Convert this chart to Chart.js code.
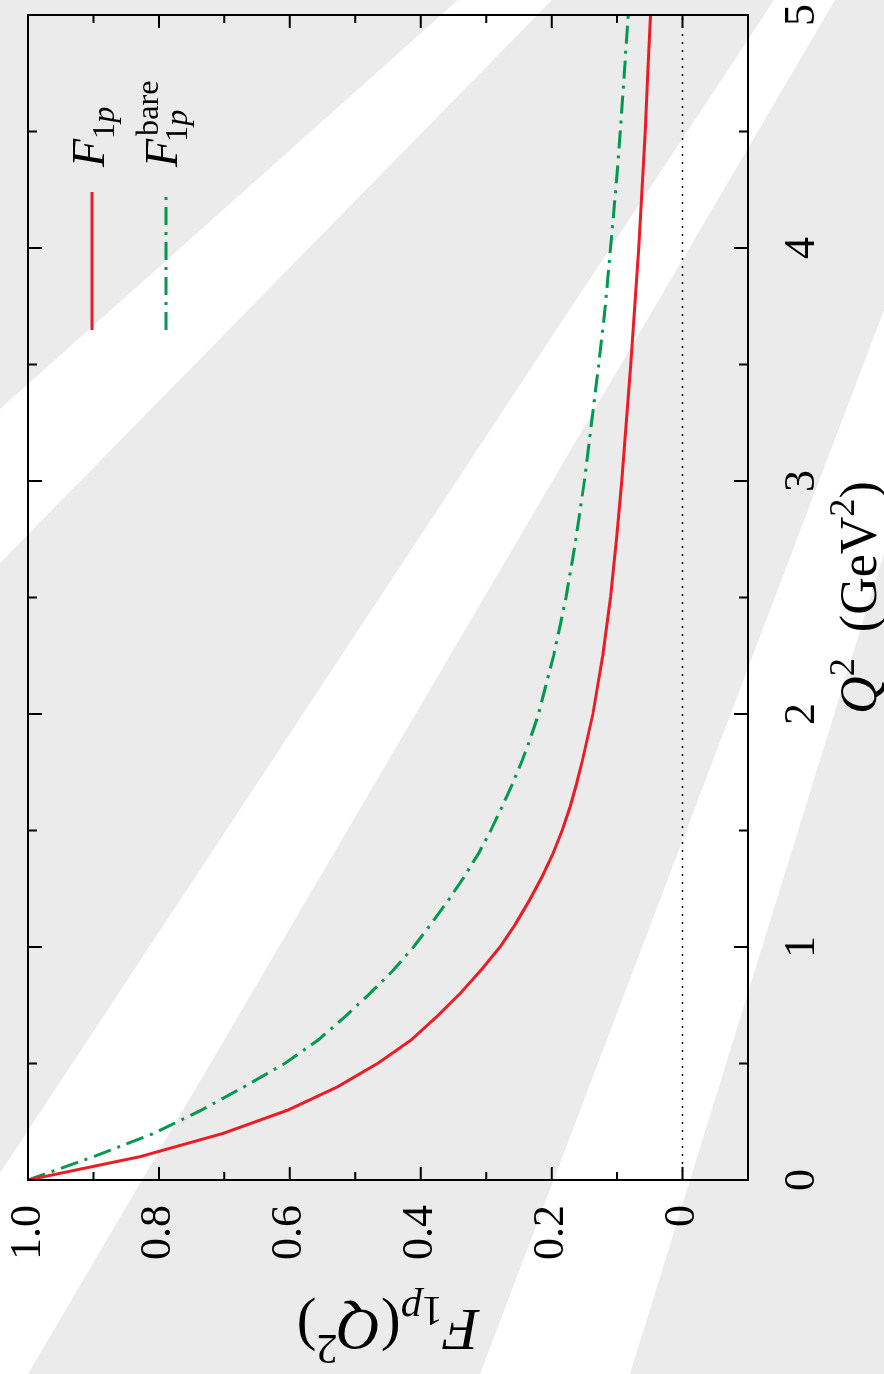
<!DOCTYPE html>
<html>
<head>
<meta charset="utf-8">
<script src="https://cdn.jsdelivr.net/npm/chart.js@4.4.0/dist/chart.umd.min.js"></script>
<style>
  html, body { margin: 0; padding: 0; width: 884px; height: 1374px; overflow: hidden; background: #ebebeb; }
  #bg { position: absolute; left: 0; top: 0; }
  /* the plot is drawn landscape and turned a quarter turn, like the scanned page */
  #wrap { position: absolute; left: -245px; top: 245px; width: 1374px; height: 884px; transform: rotate(-90deg); }
</style>
</head>
<body>
<svg id="bg" width="884" height="1374">
  <rect width="884" height="1374" fill="#ebebeb"/>
  <polygon points="458,0 552,0 0,563 0,409" fill="#fff"/>
  <polygon points="774,0 835,0 28,1374 0,1374 0,1173" fill="#fff"/>
  <polygon points="884,310 884,553 630,1374 480,1374" fill="#fff"/>
</svg>
<div id="wrap"><canvas id="chart" width="1374" height="884"></canvas></div>
<script>
// Q^2 in GeV^2
const q2 = [0, 0.1, 0.2, 0.3, 0.4, 0.5, 0.6, 0.7, 0.8, 0.9, 1.0, 1.1, 1.2, 1.3, 1.4, 1.5, 1.6, 1.7, 1.8, 1.9,
            2.0, 2.25, 2.5, 2.75, 3.0, 3.25, 3.5, 3.75, 4.0, 4.25, 4.5, 4.75, 5.0];
// F_1p (full) and F_1p bare
const f1p = [1.0, 0.829, 0.702, 0.603, 0.527, 0.466, 0.415, 0.376, 0.340, 0.308, 0.279, 0.255, 0.234, 0.215, 0.198, 0.184, 0.172, 0.162, 0.153, 0.145,
             0.137, 0.122, 0.110, 0.101, 0.093, 0.086, 0.079, 0.073, 0.067, 0.062, 0.057, 0.053, 0.049];
const f1pBare = [1.0, 0.900, 0.808, 0.735, 0.670, 0.608, 0.557, 0.516, 0.478, 0.442, 0.411, 0.384, 0.358, 0.334, 0.312, 0.293, 0.276, 0.260, 0.245, 0.232,
                 0.220, 0.197, 0.178, 0.163, 0.150, 0.139, 0.128, 0.118, 0.110, 0.102, 0.095, 0.089, 0.083];
const zeroLineQ2 = [0, 5];
const zeroLineF = [0, 0];

const xTickValues = [0, 1, 2, 3, 4, 5];
const xTickLabels = ['0', '1', '2', '3', '4', '5'];
const yTickValues = [0, 0.2, 0.4, 0.6, 0.8, 1.0];
const yTickLabels = ['0', '0.2', '0.4', '0.6', '0.8', '1.0'];

const RED = '#ec1c24';
const GREEN = '#009a4e';
const SERIF = '"Liberation Serif", "DejaVu Serif", serif';

function pairs(xs, ys) {
    return xs.map((x, i) => ({ x: x, y: ys[i] }));
}

function labelFor(values, labels, v) {
    const i = values.findIndex(t => Math.abs(t - v) < 1e-6);
    return i < 0 ? '' : labels[i];
}

function fontStr(size, italic) {
    return (italic ? 'italic ' : '') + size + 'px ' + SERIF;
}

// small helper for LaTeX-ish text with sub/superscripts
function drawRich(ctx, parts, size, x, y, align) {
    let cx = 0, mark = 0, maxX = 0;
    const items = [];
    parts.forEach(p => {
        const s = (p.sub || p.sup) ? size * 0.7 : size;
        const f = fontStr(s, p.it);
        ctx.font = f;
        if (p.mark) mark = cx;
        if (p.back) cx = mark;
        cx += p.dx || 0;
        const dy = p.sub ? size * 0.22 : (p.sup ? -size * 0.42 : 0);
        items.push({ t: p.t, f: f, x: cx, dy: dy });
        cx += ctx.measureText(p.t).width;
        maxX = Math.max(maxX, cx);
    });
    const x0 = align === 'center' ? x - maxX / 2 : x;
    ctx.textAlign = 'left';
    ctx.textBaseline = 'alphabetic';
    ctx.fillStyle = '#000';
    items.forEach(it => {
        ctx.font = it.f;
        ctx.fillText(it.t, x0 + it.x, y + it.dy);
    });
}

const framePlugin = {
    id: 'frame',
    afterDatasetsDraw(chart) {
        const ctx = chart.ctx;
        const a = chart.chartArea;
        const xs = chart.scales.x, ys = chart.scales.y;
        ctx.save();
        ctx.strokeStyle = '#000';
        ctx.lineWidth = 2;

        // inward ticks on all four sides
        ctx.beginPath();
        xs.ticks.forEach(t => {
            if (t.value <= xs.min + 1e-6 || t.value >= xs.max - 1e-6) return;
            const px = xs.getPixelForValue(t.value);
            const len = Number.isInteger(Math.round(t.value * 1000) / 1000) ? 14 : 9;
            ctx.moveTo(px, a.bottom); ctx.lineTo(px, a.bottom - len);
            ctx.moveTo(px, a.top); ctx.lineTo(px, a.top + len);
        });
        ys.ticks.forEach(t => {
            if (t.value <= ys.min + 1e-6 || t.value >= ys.max - 1e-6) return;
            const py = ys.getPixelForValue(t.value);
            const len = Math.round(t.value * 10) % 2 === 0 ? 13 : 8;
            ctx.moveTo(a.left, py); ctx.lineTo(a.left + len, py);
            ctx.moveTo(a.right, py); ctx.lineTo(a.right - len, py);
        });
        ctx.stroke();
        ctx.strokeRect(a.left, a.top, a.right - a.left, a.bottom - a.top);

        // legend, sample first then the label
        const rows = [
            { color: RED, dash: [], parts: [{ t: 'F', it: true }, { t: '1', sub: true }, { t: 'p', sub: true, it: true }] },
            { color: GREEN, dash: [18, 7, 3, 7], parts: [{ t: 'F', it: true }, { t: 'bare', sup: true, mark: true, dx: 3 }, { t: '1', sub: true, back: true, dx: -3 }, { t: 'p', sub: true, it: true }] }
        ];
        rows.forEach((r, i) => {
            const base = a.top + 76 + i * 73;
            const my = a.top + 64 + i * 74;
            ctx.beginPath();
            ctx.strokeStyle = r.color;
            ctx.lineWidth = 3;
            ctx.setLineDash(r.dash);
            ctx.moveTo(a.right - 315, my);
            ctx.lineTo(a.right - 177, my);
            ctx.stroke();
            ctx.setLineDash([]);
            drawRich(ctx, r.parts, 46, a.right - 152, base, 'left');
        });

        // axis titles
        drawRich(ctx, [{ t: 'Q', it: true }, { t: '2', sup: true }, { t: '  (GeV' }, { t: '2', sup: true }, { t: ')' }],
            52, (a.left + a.right) / 2, 876, 'center');
        ctx.translate(64, (a.top + a.bottom) / 2);
        ctx.rotate(-Math.PI / 2);
        drawRich(ctx, [{ t: 'F', it: true }, { t: '1', sub: true }, { t: 'p', sub: true, it: true }, { t: '(' }, { t: 'Q', it: true }, { t: '2', sup: true }, { t: ')' }],
            60, 0, 0, 'center');
        ctx.restore();
    }
};

const chart = new Chart(document.getElementById('chart').getContext('2d'), {
    type: 'scatter',
    data: {
        datasets: [
            {
                label: 'F1p',
                data: pairs(q2, f1p),
                showLine: true,
                borderColor: RED,
                borderWidth: 3,
                pointRadius: 0,
                tension: 0
            },
            {
                label: 'F1p bare',
                data: pairs(q2, f1pBare),
                showLine: true,
                borderColor: GREEN,
                borderWidth: 3,
                borderDash: [18, 7, 3, 7],
                pointRadius: 0,
                tension: 0
            },
            {
                label: 'zero',
                data: pairs(zeroLineQ2, zeroLineF),
                showLine: true,
                borderColor: '#000',
                borderWidth: 1.5,
                borderDash: [2, 6],
                pointRadius: 0
            }
        ]
    },
    options: {
        responsive: false,
        animation: false,
        devicePixelRatio: 1,
        layout: { padding: { left: 0, right: 15, top: 28, bottom: 0 } },
        plugins: {
            legend: { display: false },
            tooltip: { enabled: false }
        },
        scales: {
            x: {
                type: 'linear',
                min: 0,
                max: 5,
                afterFit: s => { s.height = 136; s.paddingLeft = 0; s.paddingRight = 0; },
                grid: { display: false, drawTicks: false },
                border: { display: false },
                ticks: {
                    stepSize: 0.5,
                    autoSkip: false,
                    maxRotation: 0,
                    minRotation: 0,
                    padding: 28,
                    color: '#000',
                    font: { family: SERIF, size: 44 },
                    callback: v => labelFor(xTickValues, xTickLabels, v)
                }
            },
            y: {
                type: 'linear',
                min: -0.1,
                max: 1.0,
                afterFit: s => { s.width = 194; s.paddingTop = 0; s.paddingBottom = 0; },
                grid: { display: false, drawTicks: false },
                border: { display: false },
                ticks: {
                    stepSize: 0.1,
                    autoSkip: false,
                    padding: 25,
                    color: '#000',
                    font: { family: SERIF, size: 44 },
                    callback: v => labelFor(yTickValues, yTickLabels, v)
                }
            }
        }
    },
    plugins: [framePlugin]
});
</script>
</body>
</html>
